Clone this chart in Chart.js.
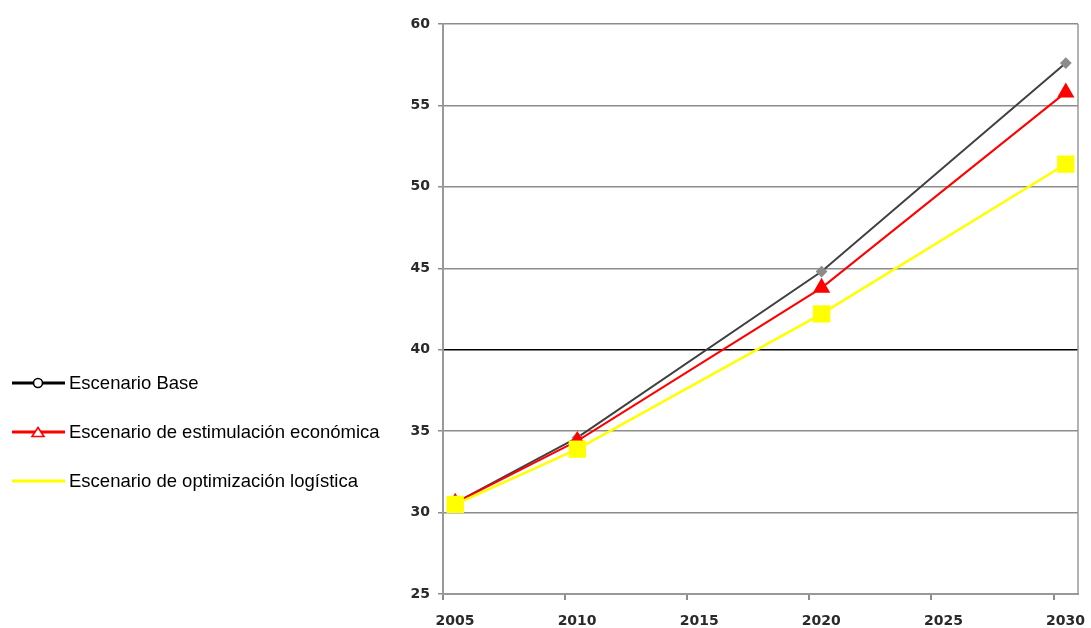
<!DOCTYPE html>
<html>
<head>
<meta charset="utf-8">
<script src="https://cdn.jsdelivr.net/npm/chart.js@4/dist/chart.umd.min.js"></script>
<style>
  html, body { margin: 0; padding: 0; background: #fff; }
</style>
</head>
<body>
<canvas id="chart" width="1091" height="628"></canvas>
<script>
const years = [2005, 2010, 2020, 2030];
const base = [30.6, 34.6, 44.8, 57.6];
const estimulacion = [30.6, 34.4, 43.8, 55.8];
const optimizacion = [30.5, 33.9, 42.2, 51.4];
const seriesNames = [
  'Escenario Base',
  'Escenario de estimulación económica',
  'Escenario de optimización logística'
];
const xTickLabels = ['2005', '2010', '2015', '2020', '2025', '2030'];

const toPoints = vals => years.map((x, i) => ({ x: x, y: vals[i] }));

// legend sits on the left, outside the plot, line + marker like the original
const sideLegend = {
  id: 'sideLegend',
  afterDraw(chart) {
    const ctx = chart.ctx;
    const items = [
      { color: '#000000', marker: 'circle' },
      { color: '#ff0000', marker: 'triangle' },
      { color: '#ffff00', marker: null }
    ];
    ctx.save();
    chart.data.datasets.forEach((ds, i) => {
      const it = items[i];
      const y = 383 + i * 49;
      ctx.strokeStyle = it.color;
      ctx.lineWidth = 3;
      ctx.beginPath();
      ctx.moveTo(12, y);
      ctx.lineTo(65, y);
      ctx.stroke();

      ctx.fillStyle = '#fff';
      ctx.lineWidth = 1.6;
      if (it.marker === 'circle') {
        ctx.beginPath();
        ctx.arc(38, y, 4.5, 0, Math.PI * 2);
        ctx.fill();
        ctx.stroke();
      } else if (it.marker === 'triangle') {
        ctx.beginPath();
        ctx.moveTo(38, y - 4.5);
        ctx.lineTo(44, y + 4.5);
        ctx.lineTo(32, y + 4.5);
        ctx.closePath();
        ctx.fill();
        ctx.stroke();
      }

      ctx.fillStyle = '#000';
      ctx.font = '18.5px "Liberation Sans", Arial, sans-serif';
      ctx.textBaseline = 'middle';
      ctx.textAlign = 'left';
      ctx.fillText(ds.label, 69, y + 1);
    });
    ctx.restore();
  }
};

// right edge of the plot box
const rightFrame = {
  id: 'rightFrame',
  beforeDatasetsDraw(chart) {
    const { ctx, chartArea } = chart;
    ctx.save();
    ctx.strokeStyle = '#999';
    ctx.lineWidth = 1.5;
    ctx.beginPath();
    ctx.moveTo(chartArea.right, chartArea.top);
    ctx.lineTo(chartArea.right, chartArea.bottom);
    ctx.stroke();
    ctx.restore();
  }
};

const tickFont = { family: '"DejaVu Sans", Tahoma, sans-serif', size: 14, weight: 'bold' };

new Chart(document.getElementById('chart'), {
  type: 'line',
  data: {
    datasets: [
      {
        label: seriesNames[0],
        data: toPoints(base),
        borderColor: '#404040',
        borderWidth: 2,
        pointStyle: 'rectRot',
        pointRadius: 4.5,
        pointBackgroundColor: '#8c8c8c',
        pointBorderColor: '#8c8c8c',
        order: 3
      },
      {
        label: seriesNames[1],
        data: toPoints(estimulacion),
        borderColor: '#ff0000',
        borderWidth: 2,
        pointStyle: 'triangle',
        pointRadius: 8,
        pointBackgroundColor: '#ff0000',
        pointBorderColor: '#ff0000',
        order: 2
      },
      {
        label: seriesNames[2],
        data: toPoints(optimizacion),
        borderColor: '#ffff00',
        borderWidth: 2.5,
        pointStyle: 'rect',
        pointRadius: 10.5,
        pointBackgroundColor: '#ffff00',
        pointBorderColor: '#ffff00',
        order: 1
      }
    ]
  },
  options: {
    responsive: false,
    animation: false,
    layout: { padding: { top: 24, right: 9, left: 0, bottom: 0 } },
    plugins: {
      legend: { display: false },
      tooltip: { enabled: false }
    },
    scales: {
      x: {
        type: 'linear',
        min: 2004.5,
        max: 2030.5,
        // tick marks at the start of each year, labels at mid-year like the original
        afterBuildTicks: s => { s.ticks = xTickLabels.map(t => ({ value: Number(t) - 0.5 })); },
        afterFit: s => {
          s.height = 34;
          s.paddingLeft = 0;
          s.paddingRight = 0;
        },
        ticks: {
          autoSkip: false,
          maxRotation: 0,
          labelOffset: 12,
          padding: 13,
          color: '#2a2a2a',
          font: tickFont,
          callback: (v, i) => xTickLabels[i]
        },
        grid: { drawOnChartArea: false, tickLength: 6, color: '#8c8c8c', lineWidth: 2 },
        border: { color: '#999', width: 2 }
      },
      y: {
        min: 25,
        max: 60,
        afterFit: s => { s.width = 443; },
        ticks: { stepSize: 5, padding: 8, color: '#2a2a2a', font: tickFont },
        grid: {
          color: c => (c.tick && c.tick.value === 40 ? '#000' : '#8c8c8c'),
          lineWidth: 1.5,
          tickColor: '#8c8c8c',
          tickLength: 5
        },
        border: { color: '#999', width: 2 }
      }
    }
  },
  plugins: [sideLegend, rightFrame]
});
</script>
</body>
</html>
